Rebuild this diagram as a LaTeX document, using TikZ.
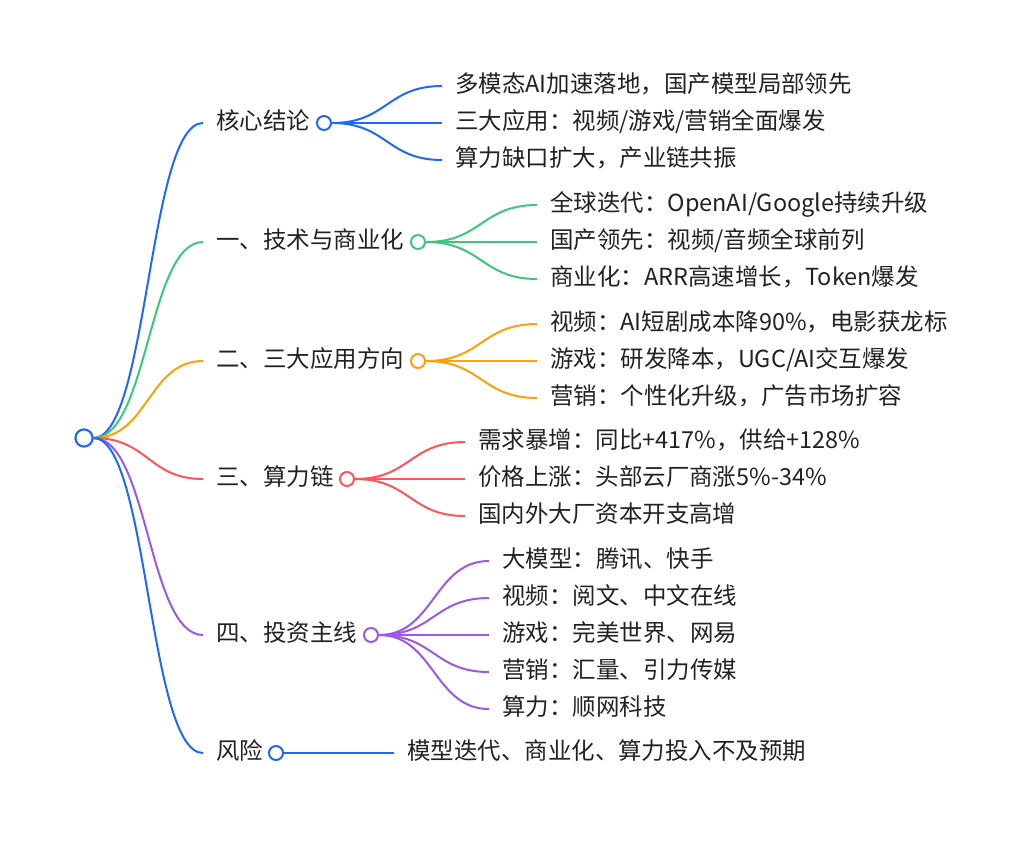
\documentclass[tikz,border=0pt]{standalone}
\usepackage{fontspec}
\setmainfont{Noto Sans CJK SC}
\usetikzlibrary{calc}
\definecolor{cblue}{RGB}{30,105,250}
\definecolor{cgreen}{RGB}{60,200,120}
\definecolor{corange}{RGB}{255,159,10}
\definecolor{cred}{RGB}{255,85,88}
\definecolor{cpurple}{RGB}{155,89,228}
\definecolor{ctext}{RGB}{34,34,34}
\newcommand\mmlink[3]{\draw[#1] let \p1=(#2), \p2=(#3) in (\p1) .. controls ({(\x1+\x2)/2},\y1) and ({(\x1+\x2)/2},\y2) .. (\p2);}
\begin{document}
\begin{tikzpicture}[x=0.75pt,y=-0.75pt,
  lbl/.style={anchor=west,inner xsep=9.75pt,inner ysep=0pt,text=ctext,
    font=\fontsize{17.6pt}{20pt}\selectfont,text height=0.96em,text depth=0.03em},
  dot/.style={circle,draw=#1,fill=white,line width=1.5pt,minimum size=10.5pt,inner sep=0pt},
  rootdot/.style={circle,draw=cblue,fill=white,line width=1.5pt,minimum size=12.75pt,inner sep=0pt},
  lnk/.style={draw=#1,line width=1.5pt}]
\fill[white] (0,0) rectangle (1024,840);
\useasboundingbox (0,0) rectangle (1024,840);
% branch labels
\node[lbl] (b0) at (203,123) {核心结论};
\node[lbl] (b1) at (203,242) {一、技术与商业化};
\node[lbl] (b2) at (203,361) {二、三大应用方向};
\node[lbl] (b3) at (203,479) {三、算力链};
\node[lbl] (b4) at (203,635) {四、投资主线};
\node[lbl] (b5) at (203,753) {风险};
% leaves
\node[lbl] (l0a) at (442,86) {多模态AI加速落地，国产模型局部领先};
\node[lbl] (l0b) at (442,123) {三大应用：视频/游戏/营销全面爆发};
\node[lbl] (l0c) at (442,160) {算力缺口扩大，产业链共振};
\node[lbl] (l1a) at (537,205) {全球迭代：OpenAI/Google持续升级};
\node[lbl] (l1b) at (537,242) {国产领先：视频/音频全球前列};
\node[lbl] (l1c) at (537,279) {商业化：ARR高速增长，Token爆发};
\node[lbl] (l2a) at (537,324) {视频：AI短剧成本降90\%，电影获龙标};
\node[lbl] (l2b) at (537,361) {游戏：研发降本，UGC/AI交互爆发};
\node[lbl] (l2c) at (537,398) {营销：个性化升级，广告市场扩容};
\node[lbl] (l3a) at (465,442) {需求暴增：同比+417\%，供给+128\%};
\node[lbl] (l3b) at (465,479) {价格上涨：头部云厂商涨5\%-34\%};
\node[lbl] (l3c) at (465,516) {国内外大厂资本开支高增};
\node[lbl] (l4a) at (489,561) {大模型：腾讯、快手};
\node[lbl] (l4b) at (489,598) {视频：阅文、中文在线};
\node[lbl] (l4c) at (489,635) {游戏：完美世界、网易};
\node[lbl] (l4d) at (489,672) {营销：汇量、引力传媒};
\node[lbl] (l4e) at (489,709) {算力：顺网科技};
\node[lbl] (l5a) at (394,753) {模型迭代、商业化、算力投入不及预期};
% circles positions
\coordinate (p0) at (324,123);
\coordinate (p1) at (418,242);
\coordinate (p2) at (418,361);
\coordinate (p3) at (347,479);
\coordinate (p4) at (371,635);
\coordinate (p5) at (276,753);
\coordinate (pr) at (84,438);
% root links
\node[rootdot] (r) at (pr) {};
\mmlink{lnk=cblue}{r.east}{b0.west}
\mmlink{lnk=cgreen}{r.east}{b1.west}
\mmlink{lnk=corange}{r.east}{b2.west}
\mmlink{lnk=cred}{r.east}{b3.west}
\mmlink{lnk=cpurple}{r.east}{b4.west}
\mmlink{lnk=cblue}{r.east}{b5.west}
% sub circles
\node[dot=cblue] (c0) at (p0) {};
\node[dot=cgreen] (c1) at (p1) {};
\node[dot=corange] (c2) at (p2) {};
\node[dot=cred] (c3) at (p3) {};
\node[dot=cpurple] (c4) at (p4) {};
\node[dot=cblue] (c5) at (p5) {};
% leaf links
\mmlink{lnk=cblue}{c0.east}{l0a.west}
\mmlink{lnk=cblue}{c0.east}{l0b.west}
\mmlink{lnk=cblue}{c0.east}{l0c.west}
\mmlink{lnk=cgreen}{c1.east}{l1a.west}
\mmlink{lnk=cgreen}{c1.east}{l1b.west}
\mmlink{lnk=cgreen}{c1.east}{l1c.west}
\mmlink{lnk=corange}{c2.east}{l2a.west}
\mmlink{lnk=corange}{c2.east}{l2b.west}
\mmlink{lnk=corange}{c2.east}{l2c.west}
\mmlink{lnk=cred}{c3.east}{l3a.west}
\mmlink{lnk=cred}{c3.east}{l3b.west}
\mmlink{lnk=cred}{c3.east}{l3c.west}
\mmlink{lnk=cpurple}{c4.east}{l4a.west}
\mmlink{lnk=cpurple}{c4.east}{l4b.west}
\mmlink{lnk=cpurple}{c4.east}{l4c.west}
\mmlink{lnk=cpurple}{c4.east}{l4d.west}
\mmlink{lnk=cpurple}{c4.east}{l4e.west}
\mmlink{lnk=cblue}{c5.east}{l5a.west}
% redraw root circle on top
\node[rootdot] (r2) at (pr) {};
\end{tikzpicture}
\end{document}
